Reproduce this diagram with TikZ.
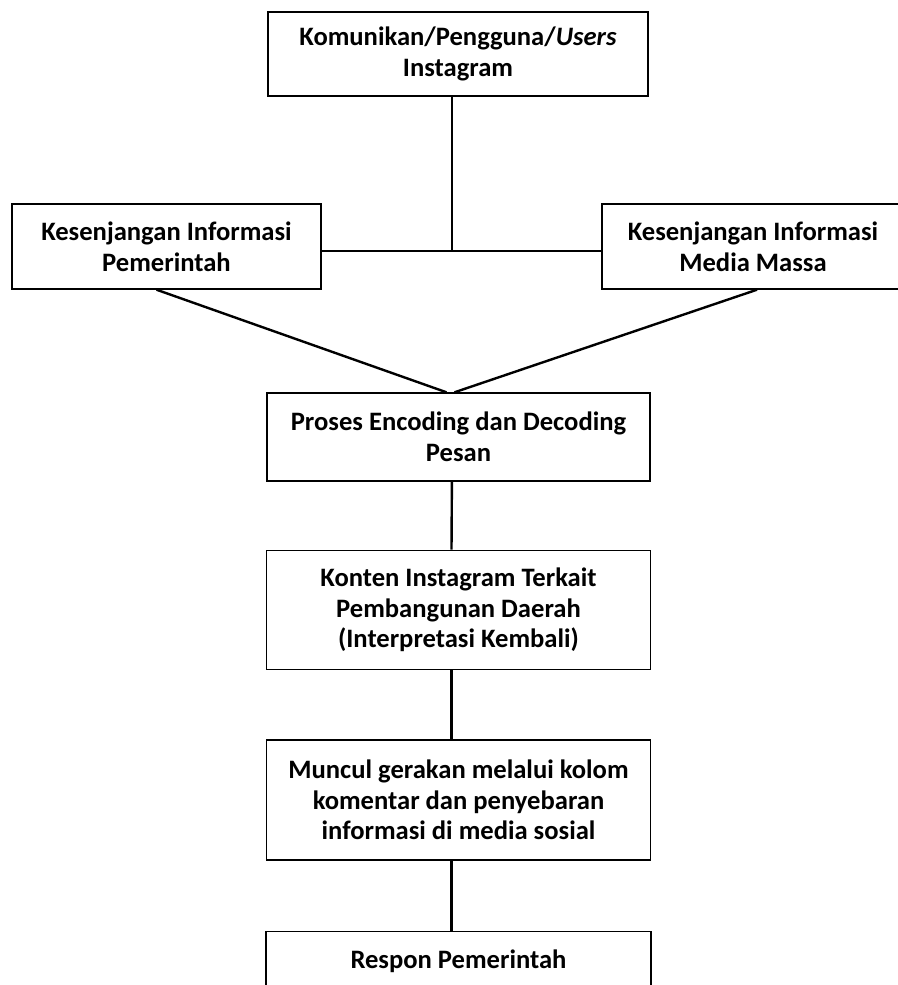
\documentclass[tikz,border=0pt]{standalone}
\usepackage{fontspec}
\setmainfont{Carlito}
\usetikzlibrary{positioning}

\tikzset{
  box/.style={draw, line width=0.7pt, align=center, inner sep=2pt,
    font=\fontsize{13.3}{15.3}\selectfont\bfseries},
  link/.style={line width=1.2pt}
}

\begin{document}
\begin{tikzpicture}[x=0.5pt, y=-0.5pt, node distance=34.5pt]
  \useasboundingbox (0,0) rectangle (898,985);
  \clip (0,0) rectangle (898,985);

  \node[box, minimum width=190pt, minimum height=42pt] (users) at (458,54)
  {Komunikan/Pengguna/\textit{Users}\\Instagram};
  \node[box, minimum width=154.5pt, minimum height=42.5pt] (gov) at (166.5,246.5)
  {Kesenjangan Informasi\\Pemerintah};
  \node[box, minimum width=151pt, minimum height=42.5pt] (media) at (753,246.5)
  {Kesenjangan Informasi\\Media Massa};
  \node[box, minimum width=191.5pt, minimum height=44pt] (proses) at (458.5,437)
  {Proses Encoding dan Decoding\\Pesan};
  \node[box, minimum width=192pt, minimum height=59.5pt, below=34pt of proses] (konten)
  {Konten Instagram Terkait\\Pembangunan Daerah\\(Interpretasi Kembali)};
  \node[box, minimum width=192pt, minimum height=60pt, below=of konten] (gerakan)
  {Muncul gerakan melalui kolom\\komentar dan penyebaran\\informasi di media sosial};
  \node[box, minimum width=192.5pt, minimum height=30pt, below=35pt of gerakan] (respon)
  {Respon Pemerintah};

  \coordinate (jn) at (452,251);

  \draw[link] ([xshift=-3pt]users.south) -- (jn);
  \draw[link] (gov.east |- jn) -- (media.west |- jn);
  \draw[link] ([xshift=-5pt]gov.south) -- ([xshift=-6pt]proses.north);
  \draw[link] ([xshift=2pt]media.south) -- ([xshift=-2pt]proses.north);
  \draw[link] ([xshift=-3.3pt]proses.south) -- ([xshift=-3.5pt]konten.north);
  \draw[link] ([xshift=-3.5pt]konten.south) -- ([xshift=-3.5pt]gerakan.north);
  \draw[link] ([xshift=-3.5pt]gerakan.south) -- ([xshift=-3.5pt]respon.north);
\end{tikzpicture}
\end{document}
